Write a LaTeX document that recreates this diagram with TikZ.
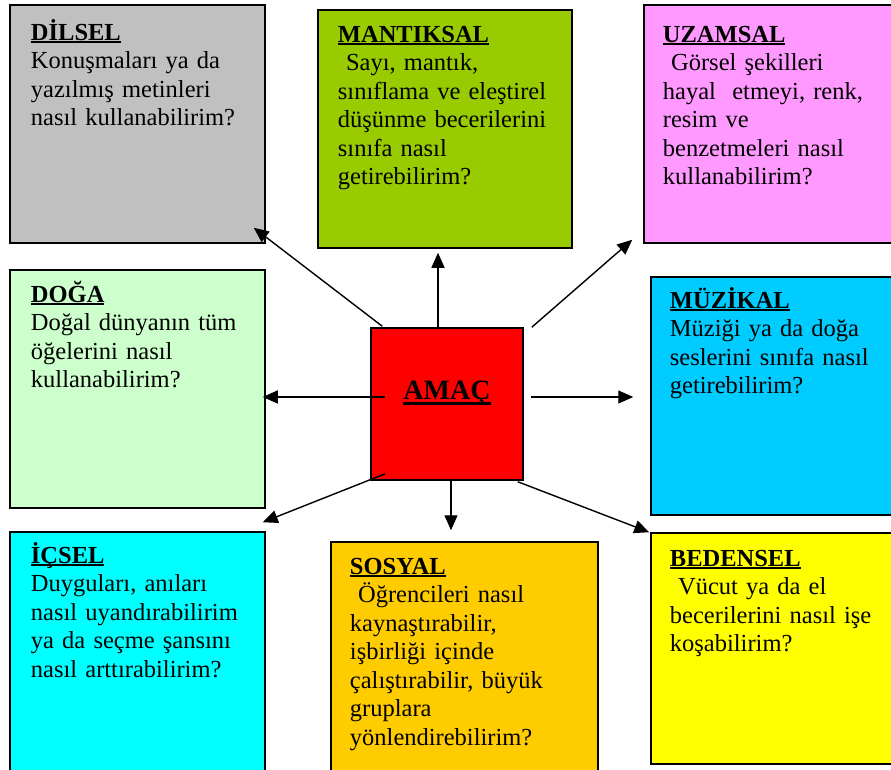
\documentclass[tikz,border=0pt]{standalone}
\usepackage{fontspec}
\setmainfont{Liberation Serif}
\usetikzlibrary{arrows.meta,positioning}

\definecolor{dilgray}{HTML}{C0C0C0}
\definecolor{mantgreen}{HTML}{99CC00}
\definecolor{uzampink}{HTML}{FF99FF}
\definecolor{dogagreen}{HTML}{CCFFCC}
\definecolor{amacred}{HTML}{FF0000}
\definecolor{muzblue}{HTML}{00CCFF}
\definecolor{icselcyan}{HTML}{00FFFF}
\definecolor{sosyalgold}{HTML}{FFCC00}
\definecolor{bedenyellow}{HTML}{FFFF00}

\newcommand{\boxtitle}[2][3pt]{\setbox0\hbox{\bfseries #2}\rlap{\rule[-#1]{\wd0}{0.1em}}\box0}

\begin{document}
\begin{tikzpicture}[x=1pt,y=-1pt,->,>={Triangle[length=15pt,width=13pt]},
                    line width=1.4pt]
  \tikzstyle{card}=[draw=black,line width=1.5pt,inner sep=0pt]
  \tikzstyle{cardtext}=[inner sep=0pt,align=left,text width=232pt,
                        font=\fontsize{24.5}{28.5}\selectfont]

  \useasboundingbox (0,0) rectangle (891,770);

  \node[card,fill=dilgray,minimum width=255pt,minimum height=238pt]      (dil)    at (137.5,124)  {};
  \node[card,fill=mantgreen,minimum width=254pt,minimum height=238pt]    (mant)   at (445,129)    {};
  \node[card,fill=uzampink,minimum width=251pt,minimum height=238pt]     (uzam)   at (769.5,124)  {};
  \node[card,fill=dogagreen,minimum width=255pt,minimum height=238pt]    (doga)   at (137.5,389)  {};
  \node[card,fill=amacred,minimum width=152pt,minimum height=152pt]      (amac)   at (447,404)    {};
  \node[card,fill=muzblue,minimum width=244pt,minimum height=238pt]      (muz)    at (773,396)    {};
  \node[card,fill=icselcyan,minimum width=255pt,minimum height=242pt]    (icsel)  at (137.5,653)  {};
  \node[card,fill=sosyalgold,minimum width=267pt,minimum height=232pt]   (sosyal) at (464.5,658)  {};
  \node[card,fill=bedenyellow,minimum width=244pt,minimum height=231pt]  (beden)  at (773,648.5)  {};

  \node[cardtext] (dilT)    [below right=36pt and 21pt of dil.north west,anchor=base west]
    {\boxtitle{DİLSEL}\\Konuşmaları ya da\\yazılmış metinleri\\nasıl kullanabilirim?};
  \node[cardtext] (mantT)   [below right=33pt and 20pt of mant.north west,anchor=base west]
    {\boxtitle{MANTIKSAL}\\~Sayı, mantık,\\sınıflama ve eleştirel\\düşünme becerilerini\\sınıfa nasıl\\getirebilirim?};
  \node[cardtext] (uzamT)   [below right=38pt and 19pt of uzam.north west,anchor=base west]
    {\boxtitle{UZAMSAL}\\~Görsel şekilleri\\hayal~ etmeyi, renk,\\resim ve\\benzetmeleri nasıl\\kullanabilirim?};
  \node[cardtext] (dogaT)   [below right=33pt and 21pt of doga.north west,anchor=base west]
    {\boxtitle{DOĞA}\\Doğal dünyanın tüm\\öğelerini nasıl\\kullanabilirim?};
  \node[cardtext] (muzT)    [below right=32pt and 19pt of muz.north west,anchor=base west]
    {\boxtitle{MÜZİKAL}\\Müziği ya da doğa\\seslerini sınıfa nasıl\\getirebilirim?};
  \node[cardtext] (icselT)  [below right=32pt and 21pt of icsel.north west,anchor=base west]
    {\boxtitle{İÇSEL}\\Duyguları, anıları\\nasıl uyandırabilirim\\ya da seçme şansını\\nasıl arttırabilirim?};
  \node[cardtext] (sosyalT) [below right=33pt and 19pt of sosyal.north west,anchor=base west]
    {\boxtitle{SOSYAL}\\~Öğrencileri nasıl\\kaynaştırabilir,\\işbirliği içinde\\çalıştırabilir, büyük\\gruplara\\yönlendirebilirim?};
  \node[cardtext] (bedenT)  [below right=34pt and 19pt of beden.north west,anchor=base west]
    {\boxtitle{BEDENSEL}\\~Vücut ya da el\\becerilerini nasıl işe\\koşabilirim?};
  \node[inner sep=0pt,font=\fontsize{28}{32}\selectfont] (amacT) [above=5pt of amac.center,anchor=base]
    {\boxtitle[6pt]{AMAÇ}};

  % arrow tips
  \coordinate (dilEnd)    at ([shift={(-12,-16)}]dil.south east);
  \coordinate (mantEnd)   at ([shift={(-7,4)}]mant.south);
  \coordinate (uzamEnd)   at ([shift={(-11,-4)}]uzam.south west);
  \coordinate (dogaEnd)   at ([shift={(-3,8)}]doga.east);
  \coordinate (muzEnd)    at ([shift={(-17,1)}]muz.west);
  \coordinate (icselEnd)  at ([shift={(-3,-9)}]icsel.north east);
  \coordinate (sosyalEnd) at ([shift={(-13.5,-11)}]sosyal.north);
  \coordinate (bedenEnd)  at ([shift={(-1,0)}]beden.north west);

  \path ([xshift=12pt,yshift=1pt]amac.north west)  edge (dilEnd)
        ([xshift=-9pt]amac.north)                 edge (mantEnd)
        ([xshift=8pt]amac.north east)             edge (uzamEnd)
        ([xshift=15pt,yshift=7pt]amac.west)       edge (dogaEnd)
        ([xshift=7pt,yshift=7pt]amac.east)        edge (muzEnd)
        ([xshift=15pt,yshift=7pt]amac.south west) edge (icselEnd)
        ([xshift=4pt]amac.south)                  edge (sosyalEnd)
        ([xshift=-6pt,yshift=-1pt]amac.south east) edge (bedenEnd);
\end{tikzpicture}
\end{document}
